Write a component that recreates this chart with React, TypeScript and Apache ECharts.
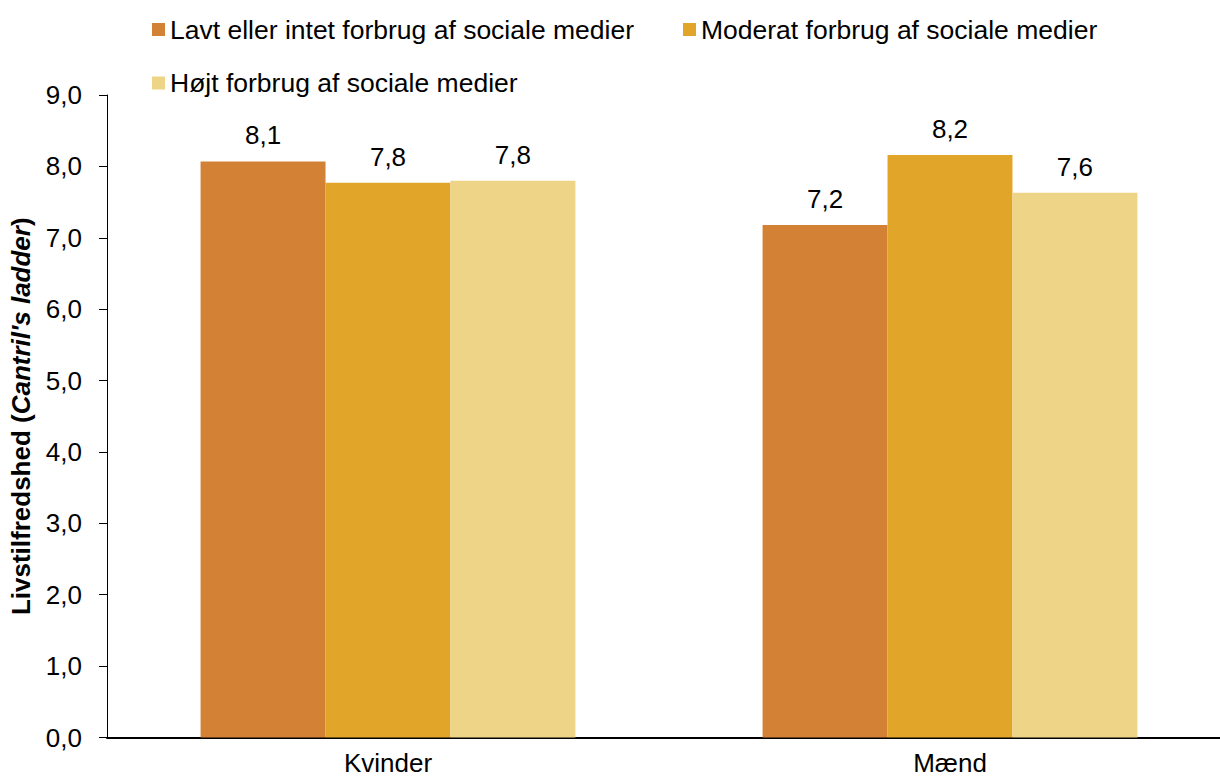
import React, { useEffect, useRef } from "react";
import * as echarts from "echarts";

const categories = ["Kvinder", "Mænd"];
const seriesNames = [
  "Lavt eller intet forbrug af sociale medier",
  "Moderat forbrug af sociale medier",
  "Højt forbrug af sociale medier",
];
const lavt = [8.07, 7.18];
const moderat = [7.77, 8.16];
const hoejt = [7.8, 7.63];
const colors = ["#D38135", "#E0A529", "#EED487"];

const FONT = '"Liberation Sans", Arial, sans-serif';
const FS = 26;
const LEGEND_FS = 26.5;

const fmt = (v: number) => v.toFixed(1).replace(".", ",");

export default function App() {
  const ref = useRef<HTMLDivElement>(null);
  useEffect(() => {
    if (!ref.current) return;
    const chart = echarts.init(ref.current, undefined, { renderer: "svg" });
    const values = [lavt, moderat, hoejt];
    chart.setOption({
      animation: false,
      textStyle: { fontFamily: FONT, color: "#000" },
      legend: [
        {
          data: [seriesNames[0], seriesNames[1]],
          left: 147,
          top: 11,
          itemWidth: 13,
          itemHeight: 13,
          itemGap: 49,
          itemTextGap: 2,
          icon: "rect",
          textStyle: { fontSize: LEGEND_FS, fontFamily: FONT, color: "#000" },
        },
        {
          data: [seriesNames[2]],
          left: 147,
          top: 64.5,
          itemWidth: 13,
          itemHeight: 13,
          itemTextGap: 2,
          icon: "rect",
          textStyle: { fontSize: LEGEND_FS, fontFamily: FONT, color: "#000" },
        },
      ],
      grid: {
        left: 107,
        top: 95,
        width: 1124,
        height: 642.5,
        containLabel: false,
        outerBoundsMode: "none",
      },
      xAxis: {
        type: "category",
        data: categories,
        axisLine: { lineStyle: { color: "#000", width: 2 } },
        axisTick: { show: false },
        axisLabel: {
          fontSize: FS,
          lineHeight: 26,
          color: "#000",
          fontFamily: FONT,
          margin: 12,
        },
      },
      yAxis: {
        type: "value",
        min: 0,
        max: 9,
        interval: 1,
        axisLine: { show: true, lineStyle: { color: "#000", width: 1 } },
        axisTick: { show: true, length: 8, lineStyle: { color: "#000" } },
        splitLine: { show: false },
        axisLabel: {
          fontSize: FS,
          color: "#000",
          fontFamily: FONT,
          margin: 25,
          formatter: (v: number) => fmt(v),
        },
        name: "{a|Livstilfredshed (}{b|Cantril's ladder}{a|)}",
        nameLocation: "middle",
        nameRotate: 90,
        nameGap: 73,
        nameTextStyle: {
          rich: {
            a: { fontSize: FS, fontWeight: "bold", fontFamily: FONT, color: "#000" },
            b: {
              fontSize: FS,
              fontWeight: "bold",
              fontStyle: "italic",
              fontFamily: FONT,
              color: "#000",
            },
          },
        },
      },
      series: seriesNames.map((name, i) => ({
        name,
        type: "bar",
        data: values[i],
        barGap: "0%",
        barCategoryGap: "33.3%",
        itemStyle: { color: colors[i] },
        label: {
          show: true,
          position: "top",
          distance: 13,
          fontSize: FS,
          fontFamily: FONT,
          color: "#000",
          formatter: (p: any) => fmt(p.value),
        },
      })),
    });
    return () => chart.dispose();
  }, []);
  return (
    <div
      ref={ref}
      style={{ position: "absolute", left: 0, top: 0, width: 1220, height: 778, overflow: "hidden" }}
    />
  );
}
